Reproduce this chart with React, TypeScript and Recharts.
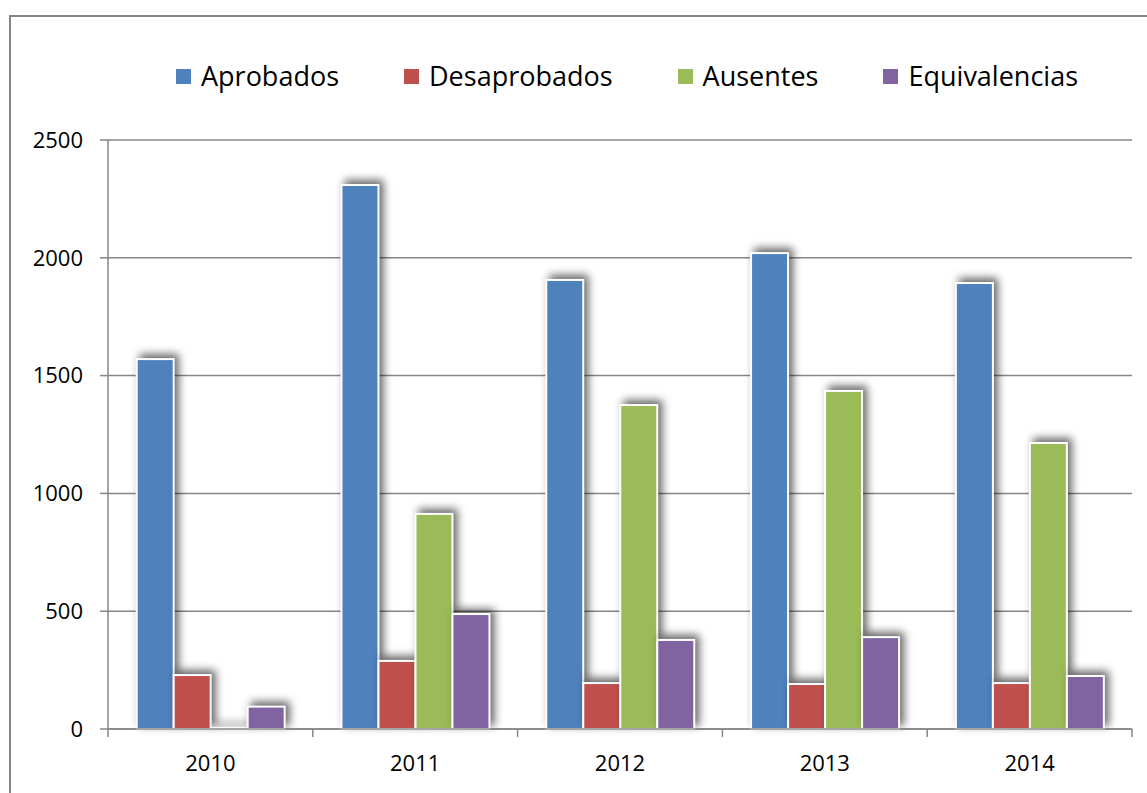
import React from 'react';
import { BarChart, Bar, XAxis, YAxis, CartesianGrid } from 'recharts';

const years = ['2010', '2011', '2012', '2013', '2014'];
const aprobados = [1570, 2309, 1906, 2020, 1893];
const desaprobados = [229, 289, 195, 191, 195];
const ausentes = [4, 913, 1375, 1435, 1214];
const equivalencias = [95, 488, 378, 390, 225];
const yTicks = [0, 500, 1000, 1500, 2000, 2500];

const seriesNames = ['Aprobados', 'Desaprobados', 'Ausentes', 'Equivalencias'];
const seriesKeys = ['aprobados', 'desaprobados', 'ausentes', 'equivalencias'];
const seriesColors = ['#4F81BD', '#C0504D', '#9BBB59', '#8064A2'];

const data = years.map((y, i) => ({
  year: y,
  aprobados: aprobados[i],
  desaprobados: desaprobados[i],
  ausentes: ausentes[i],
  equivalencias: equivalencias[i],
}));

const FONT = '"Open Sans", "Noto Sans", sans-serif';
const GRID = '#868686';

const ShadowBar = (props: any) => {
  const { x, y, width, height, fill } = props;
  if (!height || height <= 0) return null;
  return (
    <rect
      x={x}
      y={y}
      width={width}
      height={height}
      fill={fill}
      stroke="#ffffff"
      strokeWidth={2}
      style={{ filter: 'drop-shadow(4px -4px 4px rgba(0,0,0,0.6))' }}
    />
  );
};

const XTick = (props: any) => {
  const { x, y, payload, index } = props;
  const half = payload && payload.offset ? payload.offset : 102.4;
  const axisY = y - 26;
  const isLast = index === years.length - 1;
  return (
    <g>
      <line x1={x - half} y1={axisY} x2={x - half} y2={axisY + 8} stroke={GRID} strokeWidth={1.5} />
      {isLast && (
        <line x1={x + half} y1={axisY} x2={x + half} y2={axisY + 8} stroke={GRID} strokeWidth={1.5} />
      )}
      <text x={x} y={y} dy="0.71em" textAnchor="middle" fill="#000" fontSize={22} fontFamily={FONT}>
        {payload.value}
      </text>
    </g>
  );
};

export default function App() {
  return (
    <div
      style={{
        position: 'absolute',
        left: 0,
        top: 0,
        width: 1147,
        height: 793,
        overflow: 'hidden',
        background: '#ffffff',
        fontFamily: FONT,
      }}
    >
      <div
        style={{
          position: 'absolute',
          left: 9,
          top: 15,
          width: 1200,
          height: 900,
          border: `2px solid ${GRID}`,
          boxSizing: 'border-box',
        }}
      />
      <div
        style={{
          position: 'absolute',
          left: 176,
          top: 58,
          height: 36,
          display: 'flex',
          alignItems: 'center',
          gap: 65,
          whiteSpace: 'nowrap',
        }}
      >
        {seriesNames.map((n, i) => (
          <div key={n} style={{ display: 'flex', alignItems: 'center' }}>
            <div style={{ width: 15, height: 15, background: seriesColors[i], marginRight: 10 }} />
            <span style={{ fontSize: 27, color: '#000', lineHeight: '36px' }}>{n}</span>
          </div>
        ))}
      </div>
      <div style={{ position: 'absolute', left: 0, top: 0 }}>
        <BarChart
          width={1147}
          height={793}
          data={data}
          margin={{ top: 140, right: 15, bottom: 0, left: 10 }}
          barCategoryGap="14%"
          barGap={0}
        >
          <CartesianGrid vertical={false} stroke={GRID} strokeWidth={1.5} />
          <XAxis
            dataKey="year"
            height={64}
            axisLine={{ stroke: GRID, strokeWidth: 1.5 }}
            tickLine={false}
            tickSize={0}
            tickMargin={26}
            interval={0}
            tick={<XTick />}
          />
          <YAxis
            width={98}
            domain={[0, 2500]}
            ticks={yTicks}
            interval={0}
            tickSize={8}
            tickMargin={17}
            axisLine={{ stroke: GRID, strokeWidth: 1.5 }}
            tickLine={{ stroke: GRID, strokeWidth: 1.5 }}
            tick={{ fill: '#000', fontSize: 22, fontFamily: FONT }}
          />
          {seriesKeys.map((k, i) => (
            <Bar
              key={k}
              dataKey={k}
              name={seriesNames[i]}
              fill={seriesColors[i]}
              isAnimationActive={false}
              shape={ShadowBar}
            />
          ))}
        </BarChart>
      </div>
    </div>
  );
}
